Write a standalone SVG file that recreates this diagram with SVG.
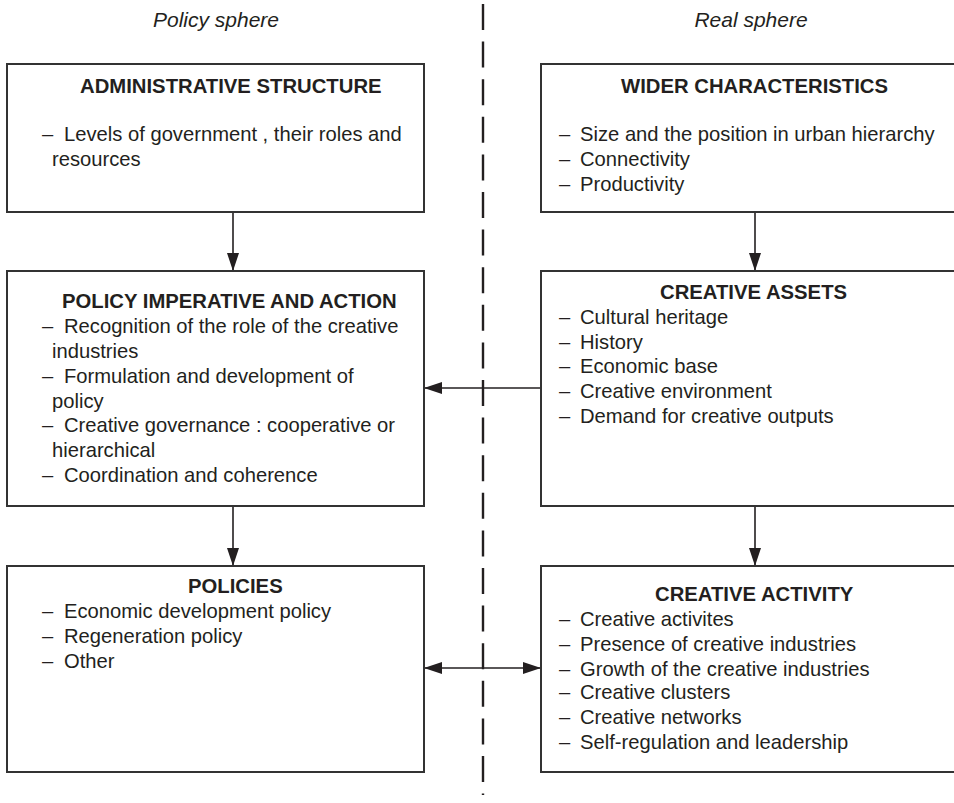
<svg xmlns="http://www.w3.org/2000/svg" width="954" height="803" viewBox="0 0 954 803">
  <style>
    .box { fill: #ffffff; stroke: #333333; stroke-width: 2; }
    .txt { font-family: "Liberation Sans", Arial, sans-serif; font-size: 20.2px; fill: #231f20; }
    .ttl { font-family: "Liberation Sans", Arial, sans-serif; font-size: 20.3px; font-weight: bold; fill: #231f20; }
    .sph { font-family: "Liberation Sans", Arial, sans-serif; font-size: 21px; font-style: italic; fill: #231f20; }
    .con { stroke: #231f20; stroke-width: 1.6; fill: none; }
    .divider { stroke: #231f20; stroke-width: 2.4; stroke-dasharray: 26 11.6; fill: none; }
  </style>
  <defs>
    <marker id="arrow" markerUnits="userSpaceOnUse" markerWidth="18" markerHeight="12" refX="18" refY="6" orient="auto">
      <path d="M0,0 L18,6 L0,12 z" fill="#231f20"/>
    </marker>
    <marker id="arrowStart" markerUnits="userSpaceOnUse" markerWidth="18" markerHeight="12" refX="0" refY="6" orient="auto">
      <path d="M18,0 L0,6 L18,12 z" fill="#231f20"/>
    </marker>
  </defs>
  <rect width="954" height="803" fill="#ffffff"/>

  <!-- sphere headings -->
  <text class="sph" x="216" y="27" text-anchor="middle">Policy sphere</text>
  <text class="sph" x="751" y="27" text-anchor="middle">Real sphere</text>

  <!-- dashed divider between the two spheres -->
  <line class="divider" x1="483" y1="4" x2="483" y2="795"/>

  <!-- connectors -->
  <g id="connectors">
    <line class="con" x1="233" y1="212" x2="233" y2="271" marker-end="url(#arrow)"/>
    <line class="con" x1="755" y1="212" x2="755" y2="271" marker-end="url(#arrow)"/>
    <line class="con" x1="233" y1="506" x2="233" y2="566" marker-end="url(#arrow)"/>
    <line class="con" x1="755" y1="506" x2="755" y2="566" marker-end="url(#arrow)"/>
    <line class="con" x1="541" y1="388" x2="424" y2="388" marker-end="url(#arrow)"/>
    <line class="con" x1="424" y1="668" x2="541" y2="668" marker-start="url(#arrowStart)" marker-end="url(#arrow)"/>
  </g>

  <!-- policy sphere -->
  <g id="administrative-structure">
    <rect class="box" x="7" y="64" width="417" height="148"/>
    <text class="ttl" x="80" y="93">ADMINISTRATIVE STRUCTURE</text>
    <text class="txt" x="42" y="141">–</text>
    <text class="txt" x="64" y="141">Levels of government , their roles and</text>
    <text class="txt" x="52" y="166">resources</text>
  </g>

  <g id="policy-imperative">
    <rect class="box" x="7" y="271" width="417" height="235"/>
    <text class="ttl" x="62" y="308">POLICY IMPERATIVE AND ACTION</text>
    <text class="txt" x="42" y="333">–</text>
    <text class="txt" x="64" y="333">Recognition of the role of the creative</text>
    <text class="txt" x="52" y="358">industries</text>
    <text class="txt" x="42" y="383">–</text>
    <text class="txt" x="64" y="383">Formulation and development of</text>
    <text class="txt" x="52" y="408">policy</text>
    <text class="txt" x="42" y="432">–</text>
    <text class="txt" x="64" y="432">Creative governance : cooperative or</text>
    <text class="txt" x="52" y="457">hierarchical</text>
    <text class="txt" x="42" y="482">–</text>
    <text class="txt" x="64" y="482">Coordination and coherence</text>
  </g>

  <g id="policies">
    <rect class="box" x="7" y="566" width="417" height="206"/>
    <text class="ttl" x="188" y="593">POLICIES</text>
    <text class="txt" x="42" y="618">–</text>
    <text class="txt" x="64" y="618">Economic development policy</text>
    <text class="txt" x="42" y="643">–</text>
    <text class="txt" x="64" y="643">Regeneration policy</text>
    <text class="txt" x="42" y="668">–</text>
    <text class="txt" x="64" y="668">Other</text>
  </g>

  <!-- real sphere -->
  <g id="wider-characteristics">
    <rect class="box" x="541" y="64" width="430" height="148"/>
    <text class="ttl" x="621" y="93">WIDER CHARACTERISTICS</text>
    <text class="txt" x="559" y="141">–</text>
    <text class="txt" x="580" y="141">Size and the position in urban hierarchy</text>
    <text class="txt" x="559" y="166">–</text>
    <text class="txt" x="580" y="166">Connectivity</text>
    <text class="txt" x="559" y="191">–</text>
    <text class="txt" x="580" y="191">Productivity</text>
  </g>

  <g id="creative-assets">
    <rect class="box" x="541" y="271" width="430" height="235"/>
    <text class="ttl" x="660" y="299">CREATIVE ASSETS</text>
    <text class="txt" x="559" y="324">–</text>
    <text class="txt" x="580" y="324">Cultural heritage</text>
    <text class="txt" x="559" y="349">–</text>
    <text class="txt" x="580" y="349">History</text>
    <text class="txt" x="559" y="373">–</text>
    <text class="txt" x="580" y="373">Economic base</text>
    <text class="txt" x="559" y="398">–</text>
    <text class="txt" x="580" y="398">Creative environment</text>
    <text class="txt" x="559" y="423">–</text>
    <text class="txt" x="580" y="423">Demand for creative outputs</text>
  </g>

  <g id="creative-activity">
    <rect class="box" x="541" y="566" width="430" height="206"/>
    <text class="ttl" x="655" y="601">CREATIVE ACTIVITY</text>
    <text class="txt" x="559" y="626">–</text>
    <text class="txt" x="580" y="626">Creative activites</text>
    <text class="txt" x="559" y="651">–</text>
    <text class="txt" x="580" y="651">Presence of creative industries</text>
    <text class="txt" x="559" y="676">–</text>
    <text class="txt" x="580" y="676">Growth of the creative industries</text>
    <text class="txt" x="559" y="699">–</text>
    <text class="txt" x="580" y="699">Creative clusters</text>
    <text class="txt" x="559" y="724">–</text>
    <text class="txt" x="580" y="724">Creative networks</text>
    <text class="txt" x="559" y="749">–</text>
    <text class="txt" x="580" y="749">Self-regulation and leadership</text>
  </g>
</svg>
